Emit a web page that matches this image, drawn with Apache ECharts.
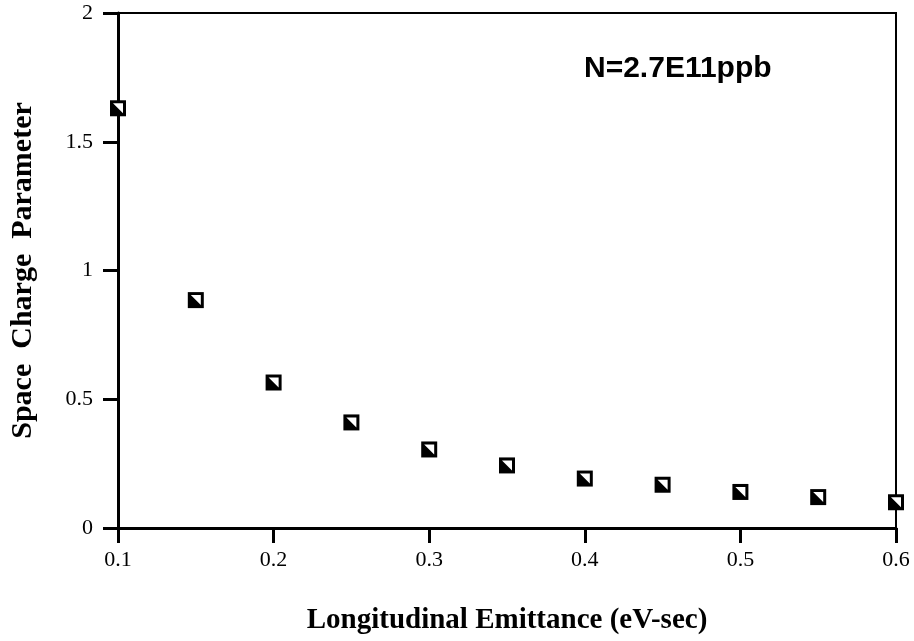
<!DOCTYPE html>
<html>
<head>
<meta charset="utf-8">
<script src="https://cdn.jsdelivr.net/npm/echarts@6/dist/echarts.min.js"></script>
<style>
  html, body { margin: 0; padding: 0; background: #fff; }
  #chart { width: 914px; height: 641px; }
</style>
</head>
<body>
<div id="chart"></div>
<script>
// emittance (eV-sec) vs space charge parameter
var emittance = [0.1, 0.15, 0.2, 0.25, 0.3, 0.35, 0.4, 0.45, 0.5, 0.55, 0.6]
var spaceCharge = [1.63, 0.885, 0.565, 0.41, 0.305, 0.243, 0.192, 0.168, 0.14, 0.12, 0.1]
var xTicks = ['0.1', '0.2', '0.3', '0.4', '0.5', '0.6']
var yTicks = ['0', '0.5', '1', '1.5', '2']

var points = emittance.map(function (x, i) { return [x, spaceCharge[i]] })

var serif = '"Liberation Serif", "DejaVu Serif", serif'

var chart = echarts.init(document.getElementById('chart'))
chart.setOption({
  animation: false,
  backgroundColor: '#fff',
  grid: {
    left: 118, right: 18, top: 13, bottom: 113,
    show: true, borderColor: '#000', borderWidth: 2
  },
  title: {
    text: 'N=2.7E11ppb',
    left: 579, top: 49,
    textStyle: { fontFamily: '"Liberation Sans", Arial, sans-serif', fontWeight: 'bold', fontSize: 30, color: '#000' }
  },
  xAxis: {
    type: 'value',
    min: 0.1, max: 0.6, interval: 0.1,
    name: 'Longitudinal Emittance (eV-sec)',
    nameLocation: 'middle', nameGap: 78,
    nameTextStyle: { fontFamily: serif, fontWeight: 'bold', fontSize: 29, color: '#000' },
    axisLine: { show: true, lineStyle: { color: '#000', width: 3 } },
    axisTick: { show: true, inside: false, length: 15, lineStyle: { color: '#000', width: 3 } },
    axisLabel: {
      margin: 21, fontFamily: serif, fontSize: 22, color: '#000',
      formatter: function (v) { return xTicks[Math.round((v - 0.1) * 10)] }
    },
    splitLine: { show: false }
  },
  yAxis: {
    type: 'value',
    min: 0, max: 2, interval: 0.5,
    name: 'Space  Charge  Parameter',
    nameLocation: 'middle', nameGap: 80,
    nameTextStyle: { fontFamily: serif, fontWeight: 'bold', fontSize: 30, color: '#000' },
    axisLine: { show: true, lineStyle: { color: '#000', width: 3 } },
    axisTick: { show: true, inside: false, length: 15, lineStyle: { color: '#000', width: 3 } },
    axisLabel: {
      margin: 25, fontFamily: serif, fontSize: 22, color: '#000',
      formatter: function (v) { return yTicks[Math.round(v * 2)] }
    },
    splitLine: { show: false }
  },
  series: [
    {
      type: 'scatter',
      data: points,
      symbol: 'rect',
      symbolSize: 16,
      itemStyle: { color: '#000', opacity: 1 },
      z: 3
    },
    {
      type: 'scatter',
      data: points,
      symbol: 'path://M0,0L10,0L10,10Z',
      symbolSize: 10,
      itemStyle: { color: '#fff', opacity: 1 },
      z: 4,
      silent: true
    }
  ]
})
</script>
</body>
</html>
